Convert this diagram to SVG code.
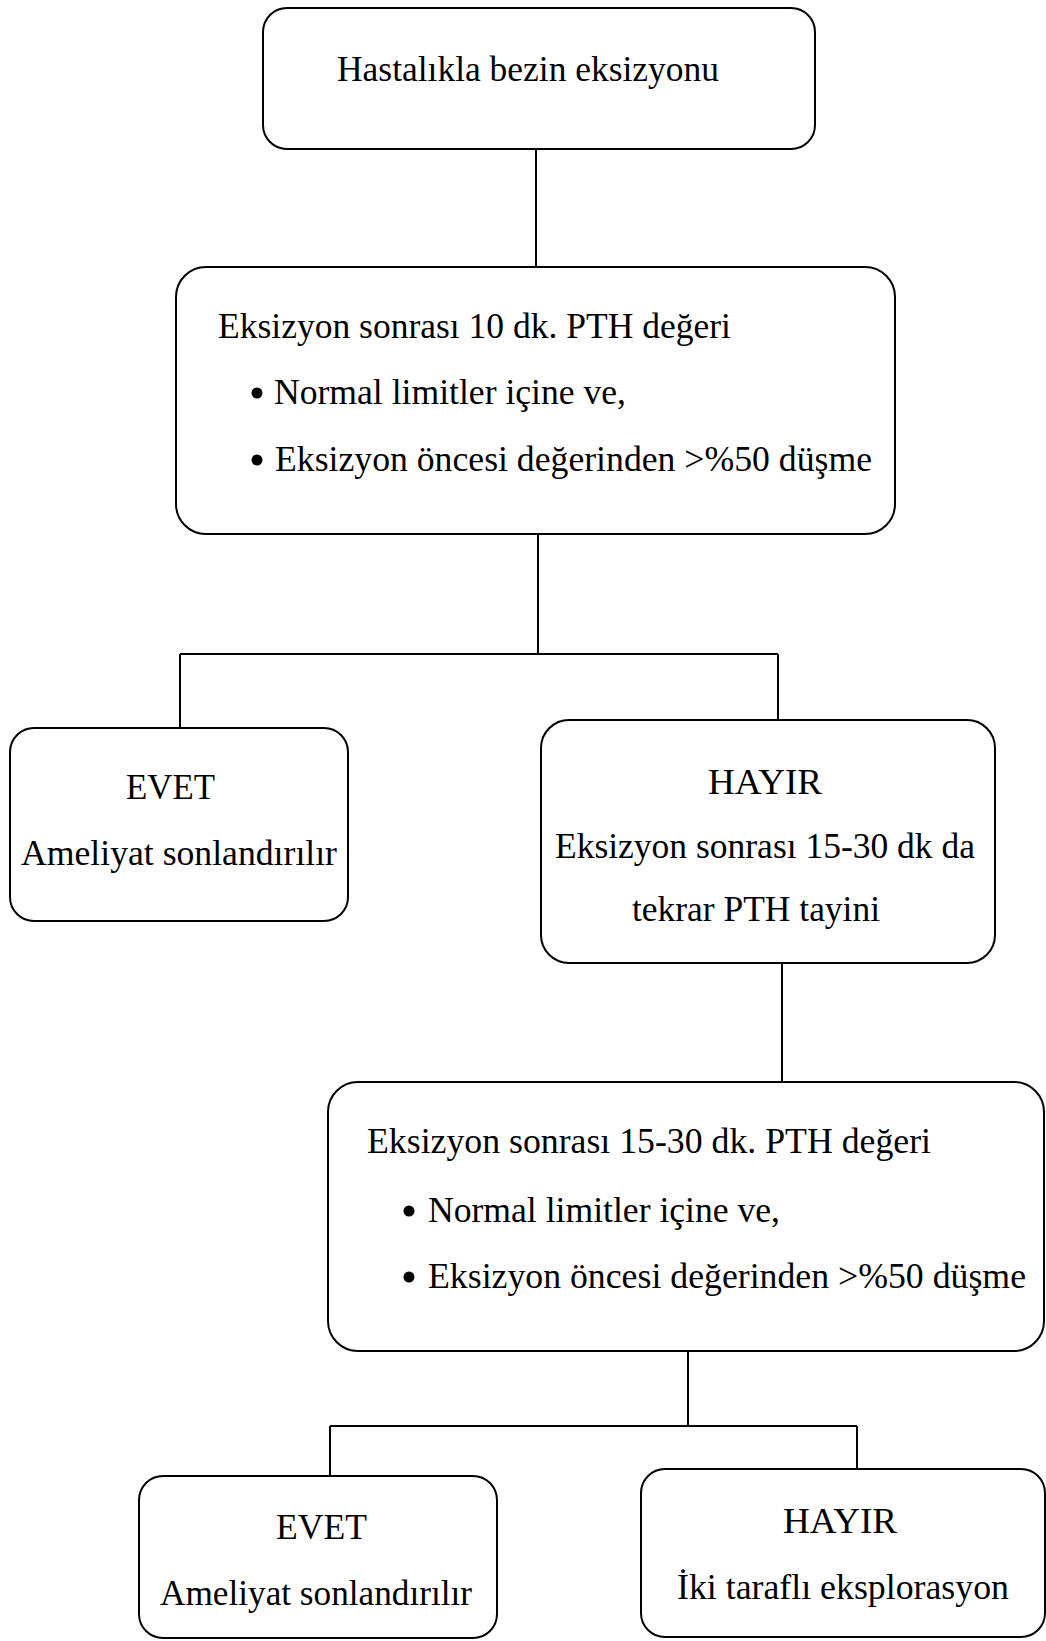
<svg xmlns="http://www.w3.org/2000/svg" width="1046" height="1641" viewBox="0 0 1046 1641">
<style>
.box{fill:#fff;stroke:#000;stroke-width:2}
.c{stroke:#000;stroke-width:2;fill:none}
</style>
<rect width="1046" height="1641" fill="#fff"/>
<g id="connectors">
<path class="c" d="M536 149V267"/>
<path class="c" d="M538 534V654M180 654H778M180 654V728M778 654V720"/>
<path class="c" d="M782 963V1082"/>
<path class="c" d="M688 1351V1426M330 1426H857M330 1426V1476M857 1426V1469"/>
</g>
<g font-family="Liberation Serif" font-size="36" fill="#000">
<g id="n1">
<rect class="box" x="263" y="8" width="552" height="141" rx="24"/>
<text x="337" y="81" textLength="382" lengthAdjust="spacingAndGlyphs">Hastalıkla bezin eksizyonu</text>
</g>
<g id="n2">
<rect class="box" x="176" y="267" width="719" height="267" rx="30"/>
<text x="218" y="338" textLength="513" lengthAdjust="spacingAndGlyphs">Eksizyon sonrası 10 dk. PTH değeri</text>
<circle cx="257" cy="393" r="5.5"/>
<text x="274" y="404" textLength="352" lengthAdjust="spacingAndGlyphs">Normal limitler içine ve,</text>
<circle cx="257" cy="460" r="5.5"/>
<text x="275" y="471" textLength="597" lengthAdjust="spacingAndGlyphs">Eksizyon öncesi değerinden &gt;%50 düşme</text>
</g>
<g id="n3">
<rect class="box" x="10" y="728" width="338" height="193" rx="24"/>
<text x="126" y="799" textLength="89" lengthAdjust="spacingAndGlyphs">EVET</text>
<text x="21" y="865" textLength="316" lengthAdjust="spacingAndGlyphs">Ameliyat sonlandırılır</text>
</g>
<g id="n4">
<rect class="box" x="541" y="720" width="454" height="243" rx="28"/>
<text x="708" y="794" textLength="114" lengthAdjust="spacingAndGlyphs">HAYIR</text>
<text x="555" y="858" textLength="420" lengthAdjust="spacingAndGlyphs">Eksizyon sonrası 15-30 dk da</text>
<text x="632" y="921" textLength="248" lengthAdjust="spacingAndGlyphs">tekrar PTH tayini</text>
</g>
<g id="n5">
<rect class="box" x="328" y="1082" width="716" height="269" rx="30"/>
<text x="367" y="1153" textLength="564" lengthAdjust="spacingAndGlyphs">Eksizyon sonrası 15-30 dk. PTH değeri</text>
<circle cx="409" cy="1211" r="5.5"/>
<text x="428" y="1222" textLength="352" lengthAdjust="spacingAndGlyphs">Normal limitler içine ve,</text>
<circle cx="409" cy="1277" r="5.5"/>
<text x="428" y="1288" textLength="598" lengthAdjust="spacingAndGlyphs">Eksizyon öncesi değerinden &gt;%50 düşme</text>
</g>
<g id="n6">
<rect class="box" x="139" y="1476" width="358" height="162" rx="24"/>
<text x="276" y="1539" textLength="91" lengthAdjust="spacingAndGlyphs">EVET</text>
<text x="160" y="1605" textLength="312" lengthAdjust="spacingAndGlyphs">Ameliyat sonlandırılır</text>
</g>
<g id="n7">
<rect class="box" x="641" y="1469" width="404" height="168" rx="24"/>
<text x="783" y="1533" textLength="114" lengthAdjust="spacingAndGlyphs">HAYIR</text>
<text x="677" y="1599" textLength="332" lengthAdjust="spacingAndGlyphs">İki taraflı eksplorasyon</text>
</g>
</g>
</svg>
